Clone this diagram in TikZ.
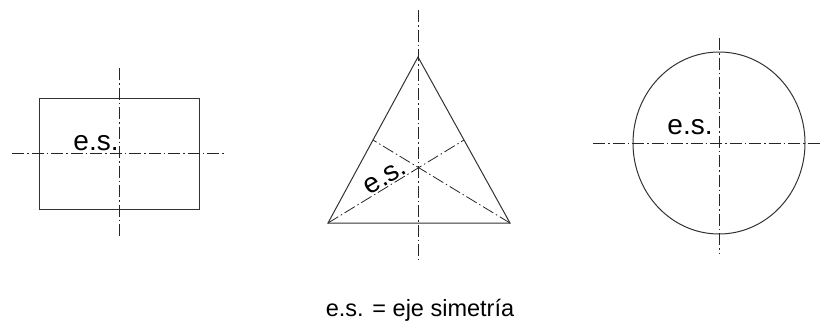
\documentclass[tikz,border=0pt]{standalone}
\usepackage{fontspec}
\setmainfont{Liberation Sans}
\usepackage{tikz}
\usetikzlibrary{calc}

\begin{document}
\begin{tikzpicture}[
    x=1pt, y=-1pt,
    outline/.style={draw=black!80, line width=1pt},
    axis/.style={draw=black!85, line width=0.8pt, dash pattern=on 12pt off 3pt on 1.5pt off 3pt},
    lbl/.style={inner sep=0pt, font=\fontsize{28}{30}\selectfont},
    note/.style={inner sep=0pt, font=\fontsize{23.5}{26}\selectfont},
]
\useasboundingbox (0,0) rectangle (829,324);

% rectangle
\draw[outline] (39,98) rectangle (199,209);
\draw[axis] (12,153) -- (225,153);
\draw[axis] (119,68) -- (119,237);
\node[lbl, anchor=base] (esrect) at (96,150) {e.s.};

% triangle
\coordinate (apex) at (418,57);
\coordinate (bl) at (328,223);
\coordinate (br) at (510,223);
\draw[outline] (apex) -- (bl) -- (br) -- cycle;
\draw[axis] (418,10) -- (418,260);
\draw[axis] (bl) -- ($(apex)!0.5!(br)$);
\draw[axis] (br) -- ($(apex)!0.5!(bl)$);
\node[lbl, anchor=base, rotate=31] (estri) at (389,184) {e.s.};

% circle
\coordinate (ctr) at (719,143);
\draw[outline] (ctr) ellipse[x radius=86, y radius=91];
\draw[axis] (593,143) -- (822,143);
\draw[axis] (719,38) -- (719,253);
\node[lbl, anchor=base] (escirc) at (690,134) {e.s.};

\node[note] (legend) at (420,310) {e.s. = eje simetría};
\end{tikzpicture}
\end{document}
